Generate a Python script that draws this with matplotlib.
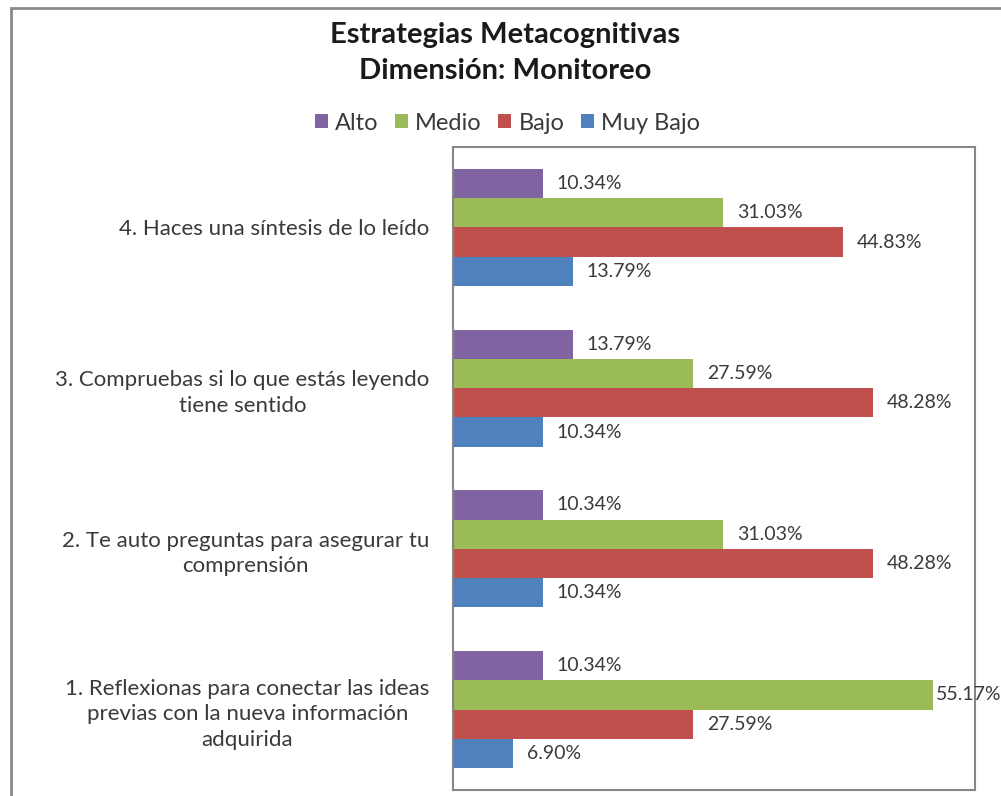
import numpy as np
import matplotlib.pyplot as plt
from matplotlib.patches import Rectangle

plt.rcParams['font.family'] = ['Lato', 'DejaVu Sans']

categories = ['1. Reflexionas para conectar las ideas\nprevias con la nueva información\nadquirida',
              '2. Te auto preguntas para asegurar tu\ncomprensión',
              '3. Compruebas si lo que estás leyendo\ntiene sentido',
              '4. Haces una síntesis de lo leído']
series_names = ['Alto', 'Medio', 'Bajo', 'Muy Bajo']
alto = [10.34, 10.34, 13.79, 10.34]
medio = [55.17, 31.03, 27.59, 31.03]
bajo = [27.59, 48.28, 48.28, 44.83]
muy_bajo = [6.90, 10.34, 10.34, 13.79]
colors = ['#8064A2', '#9BBB59', '#C0504D', '#4F81BD']

fig = plt.figure(figsize=(10.01, 7.96), dpi=100)
ax = fig.add_axes([453 / 1001, 1 - 790 / 796, (975 - 453) / 1001, (790 - 147) / 796])

y = np.arange(len(categories))
h = 0.182
offsets = [1.5 * h, 0.5 * h, -0.5 * h, -1.5 * h]
text_col = '#3a3a3a'

for name, vals, col, off in zip(series_names, [alto, medio, bajo, muy_bajo], colors, offsets):
    bars = ax.barh(y + off, vals, height=h, color=col, label=name)
    for b, v in zip(bars, vals):
        # labels near the right edge are pulled in, as the spreadsheet does
        pad = 2 if v > 50 else 10
        ax.annotate('%.2f%%' % v, (b.get_width(), b.get_y() + b.get_height() / 2),
                    xytext=(pad, 0), textcoords='offset points', va='center', ha='left',
                    fontsize=14, color=text_col, annotation_clip=False)

ax.set_xlim(0, 60)
ax.set_ylim(-0.5, len(categories) - 0.5)
ax.set_xticks([])
ax.set_yticks(y)
ax.set_yticklabels(categories, fontsize=16, color=text_col, multialignment='center',
                   linespacing=1.35)
ax.tick_params(axis='y', length=0, pad=17)
for s in ax.spines.values():
    s.set_color('#868686')
    s.set_linewidth(1.5)

fig.text(0.505, 1 - 35 / 796, 'Estrategias Metacognitivas', ha='center', va='center',
         fontsize=21, fontweight='bold', color='#1a1a1a')
fig.text(0.505, 1 - 71 / 796, 'Dimensión: Monitoreo', ha='center', va='center',
         fontsize=21, fontweight='bold', color='#1a1a1a')

fig.legend(loc='center', bbox_to_anchor=(0.507, 1 - 123 / 796), ncol=4, frameon=False,
           fontsize=17, handlelength=0.55, handleheight=0.55, handletextpad=0.3,
           columnspacing=0.7, labelcolor=text_col)

fig.patches.append(Rectangle((11 / 1001, -0.1), 1.2, 1.1 - 8 / 796, transform=fig.transFigure,
                             fill=False, edgecolor='#8a8a8a', linewidth=2))

fig.savefig('out.png', dpi=100)
